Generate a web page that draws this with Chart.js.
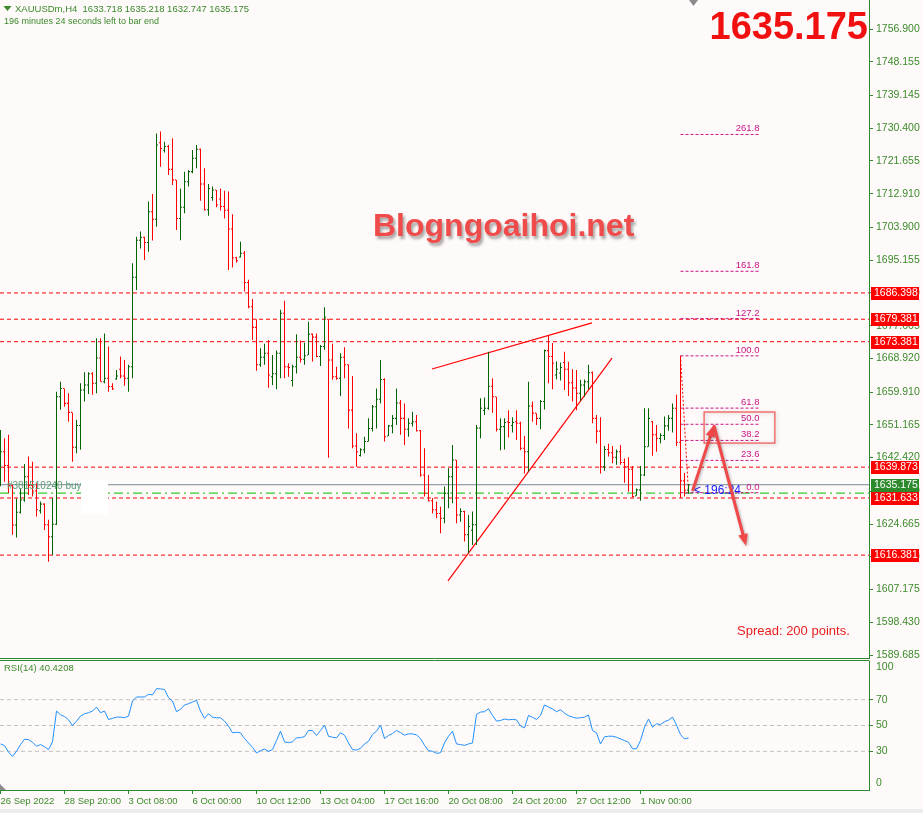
<!DOCTYPE html>
<html><head><meta charset="utf-8">
<script src="https://cdn.jsdelivr.net/npm/chart.js@4.4.0/dist/chart.umd.min.js"></script>
<style>
html,body{margin:0;padding:0;background:#fffafa;overflow:hidden;}
#wrap{position:relative;width:923px;height:813px;background:#fffafa;}
#c1{position:absolute;left:0;top:0;}
#c2{position:absolute;left:0;top:660px;}
</style></head>
<body><div id="wrap"><canvas id="c1" width="923" height="660"></canvas><canvas id="c2" width="923" height="153"></canvas></div>
<script>
// ---------- DATA ----------
const symbol = 'XAUUSDm,H4';
const opens = [1638.2,1644.0,1640.3,1635.0,1624.4,1627.8,1631.1,1637.3,1635.0,1633.5,
 1628.2,1630.0,1624.5,1621.3,1624.6,1658.7,1660.9,1656.9,1654.5,1645.2,
 1651.0,1660.5,1661.8,1664.8,1662.3,1669.0,1662.7,1663.6,1661.4,1663.4,
 1666.0,1664.2,1663.6,1666.7,1690.6,1700.5,1701.3,1699.9,1708.1,1706.1,
 1726.5,1724.5,1725.5,1719.4,1716.6,1706.3,1709.3,1716.1,1718.8,1722.4,
 1724.8,1715.5,1708.6,1711.9,1713.9,1711.5,1709.5,1708.5,1703.5,1695.8,
 1696.0,1697.0,1689.2,1682.7,1677.2,1667.2,1669.2,1670.3,1664.0,1664.8,
 1670.3,1681.0,1666.7,1663.0,1666.7,1669.2,1668.7,1669.8,1675.4,1674.6,
 1669.4,1672.1,1679.4,1668.5,1664.0,1663.6,1669.2,1667.2,1655.1,1645.5,
 1643.0,1644.5,1646.7,1650.2,1656.0,1658.0,1663.3,1648.2,1650.9,1652.9,
 1657.0,1652.9,1650.0,1651.6,1652.0,1649.6,1637.8,1632.9,1630.9,1628.5,
 1627.5,1626.2,1632.9,1637.3,1641.8,1627.1,1628.0,1621.8,1623.0,1624.5,
 1650.3,1655.0,1655.6,1661.5,1658.7,1650.0,1650.7,1652.0,1651.0,1652.0,
 1651.6,1644.9,1644.0,1656.2,1654.3,1652.9,1657.4,1671.0,1669.4,1664.5,
 1665.0,1667.8,1666.0,1662.4,1661.0,1659.6,1661.8,1662.7,1665.1,1652.9,
 1649.5,1640.0,1644.6,1643.7,1642.5,1644.0,1641.1,1640.0,1639.3,1632.2,
 1633.8,1637.8,1645.3,1652.0,1648.5,1647.5,1648.3,1650.9,1652.9,1655.6,
 1646.5,1636.2,1633.718];
const highs = [1649.8,1647.6,1648.5,1635.1,1631.5,1634.2,1640.7,1642.7,1641.3,1635.6,
 1630.7,1630.2,1625.8,1631.6,1660.0,1662.7,1660.9,1659.6,1654.5,1652.5,
 1662.3,1665.2,1665.2,1665.2,1674.3,1674.3,1675.6,1672.1,1662.3,1665.8,
 1669.4,1668.5,1667.2,1694.3,1701.4,1702.8,1701.4,1710.8,1712.8,1729.0,
 1729.5,1726.8,1725.9,1727.7,1716.6,1714.3,1718.8,1719.2,1724.6,1725.9,
 1725.0,1719.7,1715.5,1714.8,1713.9,1714.3,1713.7,1713.5,1707.4,1696.1,
 1700.1,1697.6,1689.9,1684.8,1679.4,1671.6,1672.8,1673.8,1669.8,1671.0,
 1681.9,1684.3,1667.6,1667.2,1675.4,1673.7,1673.1,1678.7,1675.6,1675.6,
 1672.5,1682.6,1679.4,1672.8,1666.7,1670.3,1671.9,1667.3,1664.2,1648.9,
 1644.9,1648.0,1652.9,1656.5,1660.9,1668.5,1663.6,1651.1,1653.8,1660.9,
 1657.8,1656.9,1652.9,1654.7,1653.8,1649.8,1644.9,1637.8,1631.6,1630.7,
 1629.3,1634.7,1639.6,1645.8,1641.8,1628.9,1628.2,1627.1,1628.0,1651.1,
 1658.3,1658.5,1670.7,1663.6,1658.7,1652.9,1652.9,1655.1,1653.2,1655.1,
 1652.0,1648.2,1662.7,1657.4,1654.3,1657.8,1671.3,1675.2,1673.0,1668.1,
 1667.8,1670.7,1668.0,1666.0,1665.8,1663.2,1663.3,1667.2,1665.4,1653.8,
 1653.2,1645.5,1646.1,1645.5,1644.6,1645.8,1642.2,1642.5,1640.2,1634.2,
 1640.2,1655.6,1655.6,1652.2,1651.1,1648.9,1653.4,1653.8,1656.9,1659.2,
 1669.6,1638.3,1635.218];
const lows = [1634.8,1636.0,1633.0,1621.8,1621.1,1627.5,1630.6,1632.4,1632.0,1626.7,
 1627.5,1623.1,1614.6,1616.4,1624.4,1655.2,1656.0,1652.0,1641.3,1643.6,
 1644.5,1657.4,1659.4,1659.2,1659.6,1662.7,1662.3,1660.0,1660.5,1663.2,
 1663.6,1661.6,1660.0,1663.6,1687.2,1698.3,1695.2,1697.4,1700.4,1704.1,
 1720.1,1723.9,1717.9,1715.2,1703.2,1700.5,1707.7,1714.8,1718.4,1719.7,
 1711.0,1708.4,1707.0,1711.0,1709.3,1708.4,1706.3,1692.5,1693.2,1694.5,
 1695.9,1686.8,1682.3,1673.8,1665.6,1666.7,1667.2,1661.1,1661.8,1660.7,
 1663.6,1663.6,1664.0,1661.4,1664.9,1667.8,1667.2,1669.8,1668.1,1669.2,
 1666.9,1671.2,1642.4,1663.2,1663.2,1658.9,1663.6,1650.2,1644.9,1640.0,
 1642.7,1643.6,1646.7,1649.4,1650.2,1656.9,1646.7,1648.2,1648.9,1651.1,
 1648.5,1645.8,1648.0,1650.7,1649.4,1637.3,1632.0,1630.7,1627.5,1626.2,
 1622.2,1624.9,1628.9,1630.2,1624.9,1625.3,1620.0,1616.9,1619.1,1619.1,
 1647.6,1653.8,1655.2,1654.4,1649.4,1644.4,1644.6,1647.8,1649.1,1647.1,
 1644.4,1638.2,1638.7,1652.0,1651.1,1650.0,1655.3,1662.3,1660.7,1663.3,
 1663.0,1660.5,1658.9,1657.4,1655.1,1657.6,1658.7,1660.7,1651.6,1646.2,
 1638.2,1638.9,1642.7,1640.9,1640.5,1640.5,1635.7,1633.3,1631.8,1632.2,
 1630.9,1637.5,1645.3,1642.9,1644.0,1646.2,1647.1,1649.6,1649.1,1645.5,
 1631.6,1632.0,1632.747];
const closes = [1644.0,1640.3,1635.0,1624.4,1627.8,1631.1,1637.3,1635.0,1633.5,1628.5,
 1630.0,1624.5,1621.3,1624.6,1658.7,1660.9,1656.9,1654.5,1645.2,1651.0,
 1660.5,1661.8,1664.8,1662.3,1669.0,1662.7,1663.6,1661.4,1660.8,1664.2,
 1664.2,1663.6,1666.7,1690.6,1700.5,1701.3,1699.9,1708.1,1706.1,1725.9,
 1725.0,1725.5,1719.4,1716.6,1706.3,1709.3,1716.1,1718.8,1722.4,1724.8,
 1715.5,1708.6,1714.3,1713.9,1709.9,1709.5,1708.5,1703.5,1695.8,1695.0,
 1697.0,1689.2,1682.7,1677.2,1667.2,1669.2,1670.3,1664.5,1664.8,1670.3,
 1681.0,1666.7,1666.5,1666.7,1669.2,1668.7,1669.6,1675.4,1674.6,1669.4,
 1672.1,1679.9,1668.5,1664.0,1663.6,1669.2,1667.2,1655.1,1645.5,1644.0,
 1644.5,1646.7,1650.2,1656.0,1658.0,1663.3,1648.0,1650.9,1652.9,1657.0,
 1652.9,1650.0,1651.6,1652.0,1649.6,1637.8,1632.9,1630.9,1628.5,1627.5,
 1626.2,1632.9,1637.3,1641.8,1627.1,1628.0,1621.8,1624.0,1624.5,1650.3,
 1655.6,1655.6,1661.5,1658.7,1650.0,1650.7,1651.8,1651.8,1651.8,1651.6,
 1644.9,1644.0,1656.2,1654.3,1652.9,1657.4,1671.0,1669.4,1667.6,1666.0,
 1666.5,1666.0,1662.4,1661.0,1659.6,1661.8,1662.7,1665.1,1652.9,1649.5,
 1640.0,1644.6,1643.7,1642.5,1644.0,1641.1,1640.0,1639.3,1632.0,1633.8,
 1637.8,1645.3,1652.9,1648.5,1647.5,1648.3,1650.9,1652.9,1655.6,1646.5,
 1636.2,1633.7,1635.175];
const rsiValues = [35.7,34.4,29.4,26.0,30.0,35.2,39.3,39.1,37.0,33.9,
 35.2,33.6,31.3,37.3,61.2,58.3,57.0,54.4,50.0,53.4,
 57.3,59.1,59.9,61.2,64.3,59.9,61.2,54.7,55.5,56.5,
 56.5,56.0,57.3,69.0,72.1,72.1,72.1,74.2,73.7,78.6,
 78.4,77.9,71.6,69.0,60.7,62.5,65.9,66.9,68.2,69.5,
 61.2,55.5,59.1,56.5,56.0,56.0,53.4,49.5,44.3,44.8,
 44.3,39.9,36.5,33.1,28.7,30.5,31.8,30.0,31.3,38.3,
 45.6,37.3,36.7,37.3,40.4,40.6,41.4,46.1,46.1,42.2,
 46.1,50.3,41.7,40.9,40.4,44.3,42.5,36.5,31.3,31.0,
 32.3,35.7,37.8,43.0,45.6,50.3,39.9,42.2,43.8,46.1,
 44.5,42.5,43.5,43.5,42.7,39.9,34.6,30.5,30.0,28.4,
 28.9,36.5,41.7,45.6,35.7,35.2,34.6,35.7,36.5,58.6,
 60.4,60.7,63.0,57.8,53.4,53.9,55.0,54.4,54.7,54.4,
 49.7,48.2,57.8,56.3,54.7,57.8,65.9,64.3,62.8,60.7,
 62.2,59.6,57.6,56.5,55.7,56.0,56.5,58.1,46.1,44.3,
 35.7,41.2,41.7,41.7,40.9,39.6,38.3,37.0,32.0,32.0,
 38.3,48.7,55.0,48.7,51.3,50.8,52.9,54.2,56.5,50.3,
 43.0,39.6,40.4];
const rsiLabel = 'RSI(14) 40.4208';
const timeLabels = ['26 Sep 2022','28 Sep 20:00','3 Oct 08:00','6 Oct 00:00','10 Oct 12:00','13 Oct 04:00','17 Oct 16:00','20 Oct 08:00','24 Oct 20:00','27 Oct 12:00','1 Nov 00:00'];
const timeLabelBars = [0,16,32,48,64,80,96,112,128,144,160];
const priceTicks = [1756.900,1748.155,1739.145,1730.400,1721.655,1712.910,1703.900,1695.155,1686.410,1677.665,1668.920,1659.910,1651.165,1642.420,1633.410,1624.665,1615.920,1607.175,1598.430,1589.685];
const rsiTicks = [30,50,70];
const rsiLevels = [30,50,70];
const redLevels = [1686.398,1679.381,1673.381,1639.873,1631.633,1616.381];
const currentPrice = 1635.175;
const orderPrice = 1632.95;
const orderText = '#381510240 buy 0.01';
const fibRatios = [0,23.6,38.2,50,61.8,100,127.2,161.8,261.8];
const fibHigh = 1669.6, fibLow = 1633.05, fibStartBar = 170, fibEndBar = 189.75;
const upperTrend = [{x:107.875,y:1666.1},{x:147.875,y:1678.4}];
const lowerTrend = [{x:111.875,y:1609.5},{x:152.875,y:1669.0}];
const arrowUp = [{x:173.1,y:1633.8},{x:178.4,y:1651.2}];
const arrowDown = [{x:178.4,y:1650.8},{x:186.4,y:1618.8}];
const boxCorners = [{x:175.9,y:1654.6},{x:193.6,y:1646.3}];

// ---------- STYLE ----------
const BG='#fffafa', AXIS='#2f8a2f', TXT='#3b8a2b', UP='#006400', DN='#ff0000';
const FIB='#c71585', FONT='"Liberation Sans", Arial, sans-serif';
const XMIN=-0.125, XMAX=-0.125+869/4;
const N = closes.length;
const TH = 0.14;
const isUp = i => closes[i] >= opens[i];
const barColor = c => isUp(c.dataIndex) ? UP : DN;

function hLine(y, color, dash, width, x0, x1, order){
  return {type:'line', data:[{x:x0===undefined?XMIN:x0,y},{x:x1===undefined?XMAX:x1,y}],
    borderColor:color, borderWidth:width||1, borderDash:dash||[], pointRadius:0, order:order||5, fill:false};
}

const mainDatasets = [
  {type:'bar', data:opens.map((o,i)=>({x:i,y:[o-TH,o+TH]})), backgroundColor:barColor, barThickness:1, inflateAmount:0, borderWidth:0, order:0},
  {type:'bar', data:highs.map((h,i)=>({x:i,y:[lows[i],h]})), backgroundColor:barColor, barThickness:1, inflateAmount:0, borderWidth:0, order:0},
  {type:'bar', data:closes.map((c,i)=>({x:i,y:[c-TH,c+TH]})), backgroundColor:barColor, barThickness:1, inflateAmount:0, borderWidth:0, order:0},
];
redLevels.forEach(p=>mainDatasets.push(hLine(p,'#ff0000',[4,3],1)));
mainDatasets.push(hLine(currentPrice,'#778899',[],1));
mainDatasets.push(hLine(orderPrice,'#32cd32',[9,4,2,4],1.2));
fibRatios.forEach(r=>mainDatasets.push(hLine(fibLow + r/100*(fibHigh-fibLow), FIB, [3,2], 1, fibStartBar, fibEndBar, 4)));
mainDatasets.push({type:'line', data:[{x:fibStartBar,y:fibHigh},{x:fibStartBar+2,y:fibLow}], borderColor:'#ff0000', borderWidth:1, borderDash:[2,2], pointRadius:0, order:4});
mainDatasets.push({type:'line', data:upperTrend, borderColor:'#ff0000', borderWidth:1.2, pointRadius:0, order:3});
mainDatasets.push({type:'line', data:lowerTrend, borderColor:'#ff0000', borderWidth:1.2, pointRadius:0, order:3});

function drawArrow(ctx, x1,y1,x2,y2, color, w, head){
  const a=Math.atan2(y2-y1,x2-x1);
  ctx.strokeStyle=color; ctx.lineWidth=w; ctx.lineCap='round';
  ctx.beginPath(); ctx.moveTo(x1,y1); ctx.lineTo(x2-Math.cos(a)*head*0.7, y2-Math.sin(a)*head*0.7); ctx.stroke();
  ctx.fillStyle=color; ctx.beginPath(); ctx.moveTo(x2,y2);
  ctx.lineTo(x2-head*Math.cos(a-0.38), y2-head*Math.sin(a-0.38));
  ctx.lineTo(x2-head*Math.cos(a+0.38), y2-head*Math.sin(a+0.38));
  ctx.closePath(); ctx.fill();
}

const mainOverlay = {
  id:'mainOverlay',
  afterDraw(chart){
    const ctx=chart.ctx, xs=chart.scales.x, ys=chart.scales.y, ca=chart.chartArea;
    const X=v=>xs.getPixelForValue(v), Y=v=>ys.getPixelForValue(v);
    ctx.save();
    ctx.strokeStyle=AXIS; ctx.lineWidth=1;
    ctx.beginPath(); ctx.moveTo(0,658.5); ctx.lineTo(ca.right+0.5,658.5); ctx.stroke();
    ctx.font='10px '+FONT; ctx.fillStyle='#5a9f78'; ctx.textBaseline='middle'; ctx.textAlign='left';
    ctx.fillText(orderText, 7, Y(orderPrice)-7);
    ctx.fillStyle='#ffffff'; ctx.fillRect(81,480,27,34);
    ctx.fillStyle=TXT;
    ctx.beginPath(); ctx.moveTo(3.5,6); ctx.lineTo(11.5,6); ctx.lineTo(7.5,11); ctx.closePath(); ctx.fill();
    ctx.font='9.5px '+FONT;
    ctx.fillText(symbol+'  '+opens[N-1].toFixed(3)+' '+highs[N-1].toFixed(3)+' '+lows[N-1].toFixed(3)+' '+closes[N-1].toFixed(3), 15, 9);
    ctx.font='9px '+FONT;
    ctx.fillText('196 minutes 24 seconds left to bar end', 4, 22);
    ctx.fillStyle='#8c8c8c';
    ctx.beginPath(); ctx.moveTo(689,0); ctx.lineTo(698,0); ctx.lineTo(693.5,6); ctx.closePath(); ctx.fill();
    ctx.font='bold 38px '+FONT; ctx.fillStyle='#f01010'; ctx.textAlign='right'; ctx.textBaseline='alphabetic';
    ctx.fillText(currentPrice.toFixed(3), 868, 39);
    ctx.save();
    ctx.shadowColor='rgba(0,0,0,0.35)'; ctx.shadowOffsetX=2; ctx.shadowOffsetY=3; ctx.shadowBlur=3;
    ctx.font='bold 32px '+FONT; ctx.fillStyle='#f04b4b'; ctx.textAlign='left';
    ctx.fillText('Blogngoaihoi.net', 373, 236);
    ctx.restore();
    ctx.font='13px '+FONT; ctx.fillStyle='#e81e1e'; ctx.textAlign='left'; ctx.textBaseline='middle';
    ctx.fillText('Spread: 200 points.', 737, 631);
    ctx.font='9.5px '+FONT; ctx.fillStyle=FIB; ctx.textAlign='right'; ctx.textBaseline='alphabetic';
    fibRatios.forEach(r=>{ ctx.fillText(r.toFixed(1), X(fibEndBar), Y(fibLow + r/100*(fibHigh-fibLow))-3); });
    ctx.save();
    ctx.shadowColor='rgba(0,0,0,0.25)'; ctx.shadowBlur=4; ctx.shadowOffsetX=1; ctx.shadowOffsetY=1;
    ctx.strokeStyle='#f05050'; ctx.lineWidth=1.2;
    const bx1=X(boxCorners[0].x), by1=Y(boxCorners[0].y), bx2=X(boxCorners[1].x), by2=Y(boxCorners[1].y);
    ctx.strokeRect(bx1,by1,bx2-bx1,by2-by1);
    ctx.restore();
    ctx.font='12px '+FONT; ctx.fillStyle='#1a1aff'; ctx.textAlign='left'; ctx.textBaseline='middle';
    ctx.fillText('< 196:24', 694, 491);
    ctx.save();
    ctx.shadowColor='rgba(0,0,0,0.3)'; ctx.shadowBlur=3; ctx.shadowOffsetX=1; ctx.shadowOffsetY=1;
    drawArrow(ctx, X(arrowUp[0].x),Y(arrowUp[0].y),X(arrowUp[1].x),Y(arrowUp[1].y),'#f04848',3,13);
    drawArrow(ctx, X(arrowDown[0].x),Y(arrowDown[0].y),X(arrowDown[1].x),Y(arrowDown[1].y),'#f04848',3,13);
    ctx.restore();
    ctx.font='10.5px '+FONT; ctx.textAlign='left'; ctx.textBaseline='middle';
    const tag=(p,bg)=>{ const y=Math.round(Y(p)); ctx.fillStyle=bg; ctx.fillRect(871,y-6,48,13); ctx.fillStyle='#ffffff'; ctx.fillText(p.toFixed(3),874,y+0.5); };
    redLevels.forEach(p=>tag(p,'#ff0000'));
    tag(currentPrice,'#2d8a2d');
    ctx.restore();
  }
};

new Chart(document.getElementById('c1'), {
  type:'bar',
  data:{datasets:mainDatasets},
  options:{
    responsive:false, animation:false, devicePixelRatio:1,
    layout:{padding:{left:0,right:0,top:0,bottom:2}},
    plugins:{legend:{display:false}, tooltip:{enabled:false}},
    scales:{
      x:{type:'linear', display:false, min:XMIN, max:XMAX, offset:false},
      y:{type:'linear', position:'right', min:1588.896, max:1764.646,
        afterBuildTicks:s=>{ s.ticks = priceTicks.map(v=>({value:v})); },
        afterFit:s=>{ s.width=54; s.paddingTop=0; s.paddingBottom=0; },
        grid:{drawOnChartArea:false, drawTicks:true, tickLength:4, color:AXIS, tickColor:AXIS},
        border:{display:true, color:AXIS, width:1},
        ticks:{color:TXT, font:{family:FONT, size:10.5}, padding:3, autoSkip:false, callback:v=>Number(v).toFixed(3)}
      }
    }
  },
  plugins:[mainOverlay]
});

// ---------- RSI ----------
const rsiDatasets = [
  {type:'line', data:rsiValues.map((v,i)=>({x:i,y:v})), borderColor:'#1e90ff', borderWidth:1, pointRadius:0, tension:0, order:0, fill:false}
];
rsiLevels.forEach(l=>rsiDatasets.push(hLine(l,'#c0c0c0',[4,3],1)));

const rsiOverlay = {
  id:'rsiOverlay',
  afterDraw(chart){
    const ctx=chart.ctx, ca=chart.chartArea;
    ctx.save();
    ctx.strokeStyle=AXIS; ctx.lineWidth=1;
    ctx.beginPath(); ctx.moveTo(0,0.5); ctx.lineTo(ca.right+0.5,0.5); ctx.stroke();
    ctx.font='9.5px '+FONT; ctx.fillStyle=TXT; ctx.textBaseline='middle'; ctx.textAlign='left';
    ctx.fillText(rsiLabel, 4, 8);
    ctx.font='10.5px '+FONT;
    ctx.fillText('100', 876, 7);
    ctx.fillText('0', 876, 123);
    ctx.fillStyle='#8c8c8c';
    ctx.beginPath(); ctx.moveTo(0,ca.bottom-6); ctx.lineTo(6,ca.bottom); ctx.lineTo(0,ca.bottom); ctx.closePath(); ctx.fill();
    ctx.fillStyle='#ececec'; ctx.fillRect(0,149,923,4);
    ctx.restore();
  }
};

new Chart(document.getElementById('c2'), {
  type:'line',
  data:{datasets:rsiDatasets},
  options:{
    responsive:false, animation:false, devicePixelRatio:1,
    layout:{padding:{left:0,right:0,top:1,bottom:0}},
    plugins:{legend:{display:false}, tooltip:{enabled:false}},
    scales:{
      x:{type:'linear', min:XMIN, max:XMAX, position:'bottom',
        afterBuildTicks:s=>{ s.ticks = timeLabelBars.map(v=>({value:v})); },
        afterFit:s=>{ s.height=23; s.paddingLeft=0; s.paddingRight=0; },
        grid:{drawOnChartArea:false, drawTicks:true, tickLength:4, color:AXIS, tickColor:AXIS},
        border:{display:true, color:AXIS, width:1},
        ticks:{color:TXT, font:{family:FONT, size:9.5}, padding:2, align:'start', maxRotation:0, minRotation:0, autoSkip:false,
          callback:(v,idx)=>timeLabels[idx]}
      },
      y:{type:'linear', position:'right', min:0, max:100,
        afterBuildTicks:s=>{ s.ticks = rsiTicks.map(v=>({value:v})); },
        afterFit:s=>{ s.width=54; s.paddingTop=0; s.paddingBottom=0; },
        grid:{drawOnChartArea:false, drawTicks:true, tickLength:4, color:AXIS, tickColor:AXIS},
        border:{display:true, color:AXIS, width:1},
        ticks:{color:TXT, font:{family:FONT, size:10.5}, padding:3, autoSkip:false}
      }
    }
  },
  plugins:[rsiOverlay]
});
</script></body></html>
